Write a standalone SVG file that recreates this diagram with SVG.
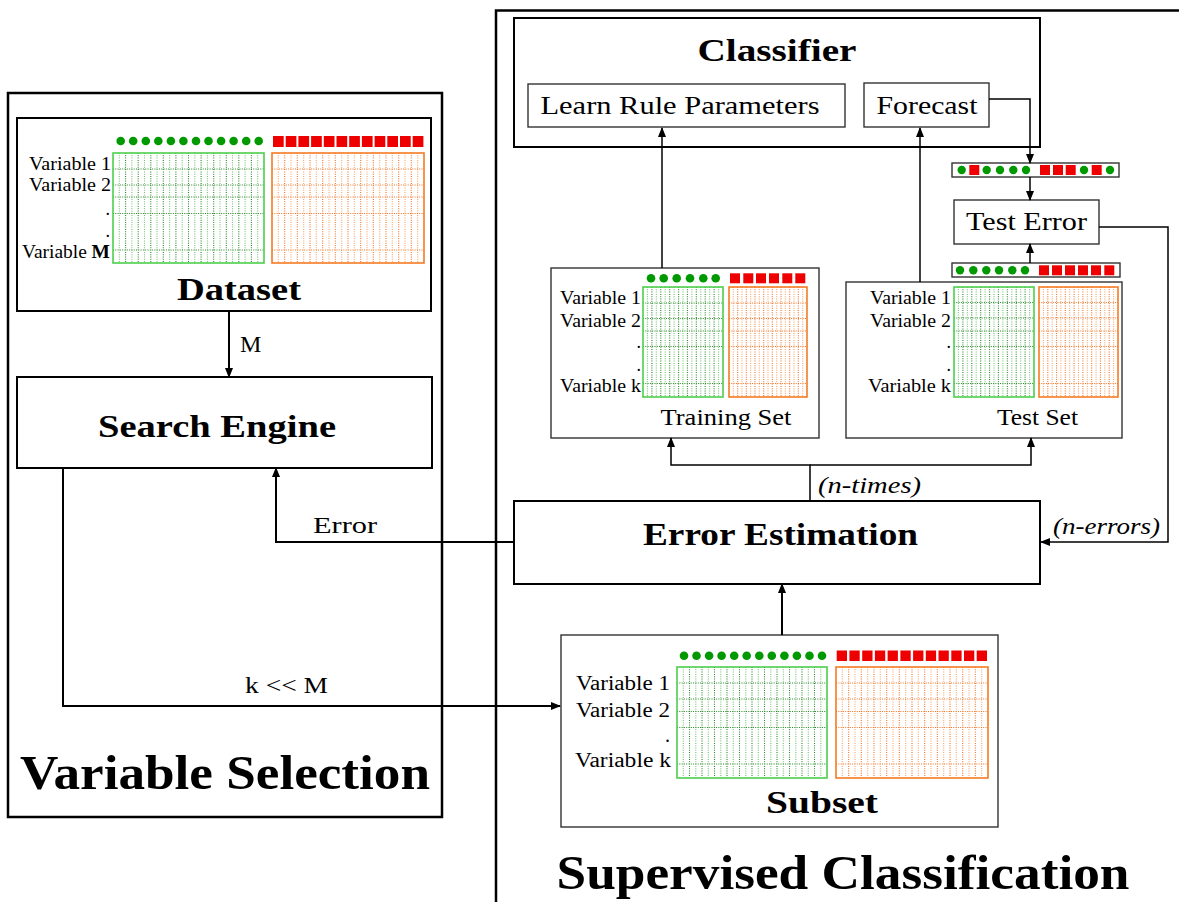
<svg xmlns="http://www.w3.org/2000/svg" width="1179" height="902" viewBox="0 0 1179 902">
<defs>
<style>
text{font-family:"Liberation Serif","Times New Roman",serif;fill:#000}
.b{font-weight:bold}
.it{font-style:italic}
.frame{fill:none;stroke:#000;stroke-width:2.5}
.box{fill:#fff;stroke:#000;stroke-width:2}
.thin{fill:#fff;stroke:#333;stroke-width:1.4}
.gbox{fill:none;stroke:#4ccf4c;stroke-width:1.6}
.obox{fill:none;stroke:#f57b22;stroke-width:1.6}
.gd{fill:none;stroke:#2a882a;stroke-width:1.1;stroke-dasharray:1 1.3}
.gl{fill:none;stroke:#74c474;stroke-width:1.1;stroke-dasharray:1 1.3}
.od{fill:none;stroke:#ee7426;stroke-width:1.1;stroke-dasharray:1 1.3}
.ol{fill:none;stroke:#f5a46c;stroke-width:1.1;stroke-dasharray:1 1.3}
.dot{fill:#009900}
.sq{fill:#ee0000}
.conn{fill:none;stroke:#000;stroke-width:2;marker-end:url(#arr)}
.connt{fill:none;stroke:#000;stroke-width:1.5;marker-end:url(#arr)}
.lab{font-size:18px;text-anchor:end}
.slab{font-size:20px;text-anchor:end}
</style>
<marker id="arr" markerUnits="userSpaceOnUse" markerWidth="10" markerHeight="8" refX="9" refY="4" orient="auto">
<path d="M0,0 L10,4 L0,8 z" fill="#000"/>
</marker>
</defs>
<rect width="1179" height="902" fill="#fff"/>

<g id="variable-selection-frame">
<rect class="frame" x="8" y="93" width="434" height="724"/>
<text class="b" x="225" y="789" font-size="48" text-anchor="middle" textLength="410" lengthAdjust="spacingAndGlyphs">Variable Selection</text>
</g>

<g id="supervised-classification-frame">
<path class="frame" d="M496 902V10.5H1179"/>
<text class="b" x="843" y="889" font-size="48" text-anchor="middle" textLength="573" lengthAdjust="spacingAndGlyphs">Supervised Classification</text>
</g>

<g id="dataset">
<rect class="box" x="17" y="118" width="414" height="193"/>
<g>
<circle class="dot" cx="120.7" cy="141" r="4.3"/><circle class="dot" cx="133.2" cy="141" r="4.3"/><circle class="dot" cx="145.8" cy="141" r="4.3"/><circle class="dot" cx="158.3" cy="141" r="4.3"/><circle class="dot" cx="170.9" cy="141" r="4.3"/><circle class="dot" cx="183.4" cy="141" r="4.3"/><circle class="dot" cx="196" cy="141" r="4.3"/><circle class="dot" cx="208.5" cy="141" r="4.3"/><circle class="dot" cx="221.1" cy="141" r="4.3"/><circle class="dot" cx="233.6" cy="141" r="4.3"/><circle class="dot" cx="246.2" cy="141" r="4.3"/><circle class="dot" cx="258.7" cy="141" r="4.3"/>
<rect class="sq" x="273" y="136" width="10.7" height="11"/><rect class="sq" x="285.7" y="136" width="10.7" height="11"/><rect class="sq" x="298.4" y="136" width="10.7" height="11"/><rect class="sq" x="311.1" y="136" width="10.7" height="11"/><rect class="sq" x="323.8" y="136" width="10.7" height="11"/><rect class="sq" x="336.5" y="136" width="10.7" height="11"/><rect class="sq" x="349.2" y="136" width="10.7" height="11"/><rect class="sq" x="361.9" y="136" width="10.7" height="11"/><rect class="sq" x="374.6" y="136" width="10.7" height="11"/><rect class="sq" x="387.3" y="136" width="10.7" height="11"/><rect class="sq" x="400" y="136" width="10.7" height="11"/><rect class="sq" x="412.7" y="136" width="10.7" height="11"/>
</g>
<path class="gl" d="M119.3 153V263M131.9 153V263M144.5 153V263M157 153V263M169.6 153V263M182.2 153V263M194.8 153V263M207.4 153V263M220 153V263M232.5 153V263M245.1 153V263M257.7 153V263"/>
<path class="gd" d="M125.6 153V263M138.2 153V263M150.8 153V263M163.3 153V263M175.9 153V263M188.5 153V263M201.1 153V263M213.7 153V263M226.3 153V263M238.8 153V263M251.4 153V263M113 169H264M113 185H264M113 197H264M113 213.5H264M113 250H264"/>
<path class="ol" d="M278.3 153V263M291 153V263M303.7 153V263M316.3 153V263M329 153V263M341.7 153V263M354.3 153V263M367 153V263M379.7 153V263M392.3 153V263M405 153V263M417.7 153V263"/>
<path class="od" d="M284.7 153V263M297.3 153V263M310 153V263M322.7 153V263M335.3 153V263M348 153V263M360.7 153V263M373.3 153V263M386 153V263M398.7 153V263M411.3 153V263M272 169H424M272 185H424M272 197H424M272 213.5H424M272 250H424"/>
<rect class="gbox" x="113" y="153" width="151" height="110"/>
<rect class="obox" x="272" y="153" width="152" height="110"/>
<text class="lab" x="111" y="170" textLength="82" lengthAdjust="spacingAndGlyphs">Variable 1</text>
<text class="lab" x="111" y="191" textLength="82" lengthAdjust="spacingAndGlyphs">Variable 2</text>
<text class="lab" x="110" y="215">.</text>
<text class="lab" x="110" y="237">.</text>
<text class="lab" x="110" y="258" textLength="88" lengthAdjust="spacingAndGlyphs">Variable <tspan class="b">M</tspan></text>
<text class="b" x="239" y="300" font-size="32" text-anchor="middle" textLength="124" lengthAdjust="spacingAndGlyphs">Dataset</text>
</g>

<g id="search-engine">
<rect class="box" x="17" y="377" width="415" height="91"/>
<text class="b" x="217" y="437" font-size="32" text-anchor="middle" textLength="238" lengthAdjust="spacingAndGlyphs">Search Engine</text>
</g>

<g id="classifier">
<rect class="box" x="514" y="18" width="526" height="129" stroke-width="3"/>
<text class="b" x="777" y="61" font-size="32" text-anchor="middle" textLength="159" lengthAdjust="spacingAndGlyphs">Classifier</text>
</g>

<g id="learn-rule-parameters">
<rect class="thin" x="528" y="84" width="317" height="43"/>
<text x="680" y="114" font-size="26" text-anchor="middle" textLength="279" lengthAdjust="spacingAndGlyphs">Learn Rule Parameters</text>
</g>

<g id="forecast">
<rect class="thin" x="864" y="83" width="125" height="44"/>
<text x="927" y="114" font-size="26" text-anchor="middle" textLength="101" lengthAdjust="spacingAndGlyphs">Forecast</text>
</g>

<g id="prediction-bar">
<rect class="thin" x="952" y="163" width="167" height="14"/>
<circle class="dot" cx="961.7" cy="170" r="4.2"/>
<rect class="sq" x="969.3" y="165" width="10" height="10"/>
<circle class="dot" cx="986.7" cy="170" r="4.2"/><circle class="dot" cx="1000" cy="170" r="4.2"/><circle class="dot" cx="1013.3" cy="170" r="4.2"/><circle class="dot" cx="1026" cy="170" r="4.2"/>
<rect class="sq" x="1040" y="165" width="10" height="10"/><rect class="sq" x="1053" y="165" width="10" height="10"/><rect class="sq" x="1065.7" y="165" width="10" height="10"/>
<circle class="dot" cx="1084" cy="170" r="4.2"/>
<rect class="sq" x="1091.7" y="165" width="10" height="10"/>
<circle class="dot" cx="1110" cy="170" r="4.2"/>
</g>

<g id="test-error">
<rect class="thin" x="954" y="200" width="145" height="44"/>
<text x="1026.5" y="230" font-size="26" text-anchor="middle" textLength="121" lengthAdjust="spacingAndGlyphs">Test Error</text>
</g>

<g id="test-bar">
<rect class="thin" x="952" y="263" width="168" height="14"/>
<circle class="dot" cx="960" cy="270.3" r="4.2"/><circle class="dot" cx="973.3" cy="270.3" r="4.2"/><circle class="dot" cx="986.3" cy="270.3" r="4.2"/><circle class="dot" cx="999" cy="270.3" r="4.2"/><circle class="dot" cx="1012.3" cy="270.3" r="4.2"/><circle class="dot" cx="1025" cy="270.3" r="4.2"/>
<rect class="sq" x="1039" y="265.3" width="10" height="10"/><rect class="sq" x="1052" y="265.3" width="10" height="10"/><rect class="sq" x="1065" y="265.3" width="10" height="10"/><rect class="sq" x="1078" y="265.3" width="10" height="10"/><rect class="sq" x="1091" y="265.3" width="10" height="10"/><rect class="sq" x="1104.3" y="265.3" width="10" height="10"/>
</g>

<g id="training-set">
<rect class="thin" x="551" y="268" width="268" height="170"/>
<circle class="dot" cx="651" cy="278.3" r="4.3"/><circle class="dot" cx="663.7" cy="278.3" r="4.3"/><circle class="dot" cx="676.7" cy="278.3" r="4.3"/><circle class="dot" cx="690" cy="278.3" r="4.3"/><circle class="dot" cx="703.3" cy="278.3" r="4.3"/><circle class="dot" cx="715.7" cy="278.3" r="4.3"/>
<rect class="sq" x="730" y="273.3" width="10" height="10"/><rect class="sq" x="743.3" y="273.3" width="10" height="10"/><rect class="sq" x="756" y="273.3" width="10" height="10"/><rect class="sq" x="769" y="273.3" width="10" height="10"/><rect class="sq" x="782.3" y="273.3" width="10" height="10"/><rect class="sq" x="795.3" y="273.3" width="10" height="10"/>
<path class="gl" d="M647.4 287V397M656.3 287V397M665.2 287V397M674.1 287V397M683 287V397M691.9 287V397M700.8 287V397M709.7 287V397M718.6 287V397"/>
<path class="gd" d="M651.9 287V397M660.8 287V397M669.7 287V397M678.6 287V397M687.4 287V397M696.3 287V397M705.2 287V397M714.1 287V397M643 303H723M643 318.5H723M643 331H723M643 346.5H723M643 383.5H723"/>
<path class="ol" d="M733.3 287V397M742 287V397M750.7 287V397M759.3 287V397M768 287V397M776.7 287V397M785.3 287V397M794 287V397M802.7 287V397"/>
<path class="od" d="M737.7 287V397M746.3 287V397M755 287V397M763.7 287V397M772.3 287V397M781 287V397M789.7 287V397M798.3 287V397M729 303H807M729 318.5H807M729 331H807M729 346.5H807M729 383.5H807"/>
<rect class="gbox" x="643" y="287" width="80" height="110"/>
<rect class="obox" x="729" y="287" width="78" height="110"/>
<text class="lab" x="641" y="304" textLength="81" lengthAdjust="spacingAndGlyphs">Variable 1</text>
<text class="lab" x="641" y="327" textLength="81" lengthAdjust="spacingAndGlyphs">Variable 2</text>
<text class="lab" x="641" y="348">.</text>
<text class="lab" x="641" y="371">.</text>
<text class="lab" x="641" y="392" textLength="81" lengthAdjust="spacingAndGlyphs">Variable k</text>
<text x="726" y="425" font-size="24" text-anchor="middle" textLength="131" lengthAdjust="spacingAndGlyphs">Training Set</text>
</g>

<g id="test-set">
<rect class="thin" x="846" y="282" width="276" height="156"/>
<path class="gl" d="M958.4 287V397M967.3 287V397M976.2 287V397M985.1 287V397M994 287V397M1002.9 287V397M1011.8 287V397M1020.7 287V397M1029.6 287V397"/>
<path class="gd" d="M962.9 287V397M971.8 287V397M980.7 287V397M989.6 287V397M998.4 287V397M1007.3 287V397M1016.2 287V397M1025.1 287V397M954 302.5H1034M954 318H1034M954 331H1034M954 346.5H1034M954 383.5H1034"/>
<path class="ol" d="M1043.4 287V397M1052.2 287V397M1060.9 287V397M1069.7 287V397M1078.5 287V397M1087.3 287V397M1096.1 287V397M1104.8 287V397M1113.6 287V397"/>
<path class="od" d="M1047.8 287V397M1056.6 287V397M1065.3 287V397M1074.1 287V397M1082.9 287V397M1091.7 287V397M1100.4 287V397M1109.2 287V397M1039 302.5H1118M1039 318H1118M1039 331H1118M1039 346.5H1118M1039 383.5H1118"/>
<rect class="gbox" x="954" y="287" width="80" height="110"/>
<rect class="obox" x="1039" y="287" width="79" height="110"/>
<text class="lab" x="951" y="304" textLength="81" lengthAdjust="spacingAndGlyphs">Variable 1</text>
<text class="lab" x="951" y="327" textLength="81" lengthAdjust="spacingAndGlyphs">Variable 2</text>
<text class="lab" x="951" y="348">.</text>
<text class="lab" x="951" y="371">.</text>
<text class="lab" x="951" y="392" textLength="83" lengthAdjust="spacingAndGlyphs">Variable k</text>
<text x="1037.5" y="425" font-size="24" text-anchor="middle" textLength="81" lengthAdjust="spacingAndGlyphs">Test Set</text>
</g>

<g id="error-estimation">
<rect class="box" x="514" y="501" width="526" height="83" stroke-width="2.5"/>
<text class="b" x="780.5" y="545" font-size="32" text-anchor="middle" textLength="275" lengthAdjust="spacingAndGlyphs">Error Estimation</text>
</g>

<g id="subset">
<rect class="thin" x="561" y="635" width="437" height="192"/>
<circle class="dot" cx="684" cy="655.7" r="4.3"/><circle class="dot" cx="696.5" cy="655.7" r="4.3"/><circle class="dot" cx="709.1" cy="655.7" r="4.3"/><circle class="dot" cx="721.6" cy="655.7" r="4.3"/><circle class="dot" cx="734.2" cy="655.7" r="4.3"/><circle class="dot" cx="746.7" cy="655.7" r="4.3"/><circle class="dot" cx="759.3" cy="655.7" r="4.3"/><circle class="dot" cx="771.8" cy="655.7" r="4.3"/><circle class="dot" cx="784.4" cy="655.7" r="4.3"/><circle class="dot" cx="796.9" cy="655.7" r="4.3"/><circle class="dot" cx="809.5" cy="655.7" r="4.3"/><circle class="dot" cx="822" cy="655.7" r="4.3"/>
<rect class="sq" x="836.7" y="650.5" width="10.3" height="10.5"/><rect class="sq" x="849.4" y="650.5" width="10.3" height="10.5"/><rect class="sq" x="862.2" y="650.5" width="10.3" height="10.5"/><rect class="sq" x="874.9" y="650.5" width="10.3" height="10.5"/><rect class="sq" x="887.6" y="650.5" width="10.3" height="10.5"/><rect class="sq" x="900.4" y="650.5" width="10.3" height="10.5"/><rect class="sq" x="913.1" y="650.5" width="10.3" height="10.5"/><rect class="sq" x="925.8" y="650.5" width="10.3" height="10.5"/><rect class="sq" x="938.5" y="650.5" width="10.3" height="10.5"/><rect class="sq" x="951.3" y="650.5" width="10.3" height="10.5"/><rect class="sq" x="964" y="650.5" width="10.3" height="10.5"/><rect class="sq" x="976.7" y="650.5" width="10.3" height="10.5"/>
<path class="gl" d="M683.3 667V778M695.8 667V778M708.3 667V778M720.8 667V778M733.3 667V778M745.8 667V778M758.3 667V778M770.8 667V778M783.3 667V778M795.8 667V778M808.3 667V778M820.8 667V778"/>
<path class="gd" d="M689.5 667V778M702 667V778M714.5 667V778M727 667V778M739.5 667V778M752 667V778M764.5 667V778M777 667V778M789.5 667V778M802 667V778M814.5 667V778M677 683H827M677 699H827M677 711.5H827M677 727.5H827M677 764H827"/>
<path class="ol" d="M842.3 667V778M855 667V778M867.7 667V778M880.3 667V778M893 667V778M905.7 667V778M918.3 667V778M931 667V778M943.7 667V778M956.3 667V778M969 667V778M981.7 667V778"/>
<path class="od" d="M848.7 667V778M861.3 667V778M874 667V778M886.7 667V778M899.3 667V778M912 667V778M924.7 667V778M937.3 667V778M950 667V778M962.7 667V778M975.3 667V778M836 683H988M836 699H988M836 711.5H988M836 727.5H988M836 764H988"/>
<rect class="gbox" x="677" y="667" width="150" height="111"/>
<rect class="obox" x="836" y="667" width="152" height="111"/>
<text class="slab" x="670" y="690" textLength="94" lengthAdjust="spacingAndGlyphs">Variable 1</text>
<text class="slab" x="670" y="717" textLength="94" lengthAdjust="spacingAndGlyphs">Variable 2</text>
<text class="slab" x="670" y="742">.</text>
<text class="slab" x="671" y="767" textLength="96" lengthAdjust="spacingAndGlyphs">Variable k</text>
<text class="b" x="822" y="813" font-size="32" text-anchor="middle" textLength="112" lengthAdjust="spacingAndGlyphs">Subset</text>
</g>

<g id="connectors">
<path class="conn" d="M229 312V377"/>
<path class="conn" d="M63 468V706H560"/>
<path class="conn" d="M514 542H276V468"/>
<path class="conn" d="M782 635V584"/>
<path class="connt" d="M810 501V465H671V438"/>
<path class="connt" d="M810 465H1031V438"/>
<path class="connt" d="M662 268V128"/>
<path class="connt" d="M920 282V128"/>
<path class="connt" d="M989 99H1030V163"/>
<path class="connt" d="M1030 177V200"/>
<path class="connt" d="M1030 263V244"/>
<path class="connt" d="M1099 227H1168V542H1041"/>
<text x="240" y="352" font-size="24">M</text>
<text x="286.5" y="693" font-size="24" text-anchor="middle" textLength="83" lengthAdjust="spacingAndGlyphs">k &lt;&lt; M</text>
<text x="345" y="533" font-size="24" text-anchor="middle" textLength="64" lengthAdjust="spacingAndGlyphs">Error</text>
<text class="it" x="869.5" y="493" font-size="24" text-anchor="middle" textLength="103" lengthAdjust="spacingAndGlyphs">(n-times)</text>
<text class="it" x="1106.5" y="534" font-size="24" text-anchor="middle" textLength="107" lengthAdjust="spacingAndGlyphs">(n-errors)</text>
</g>
</svg>
